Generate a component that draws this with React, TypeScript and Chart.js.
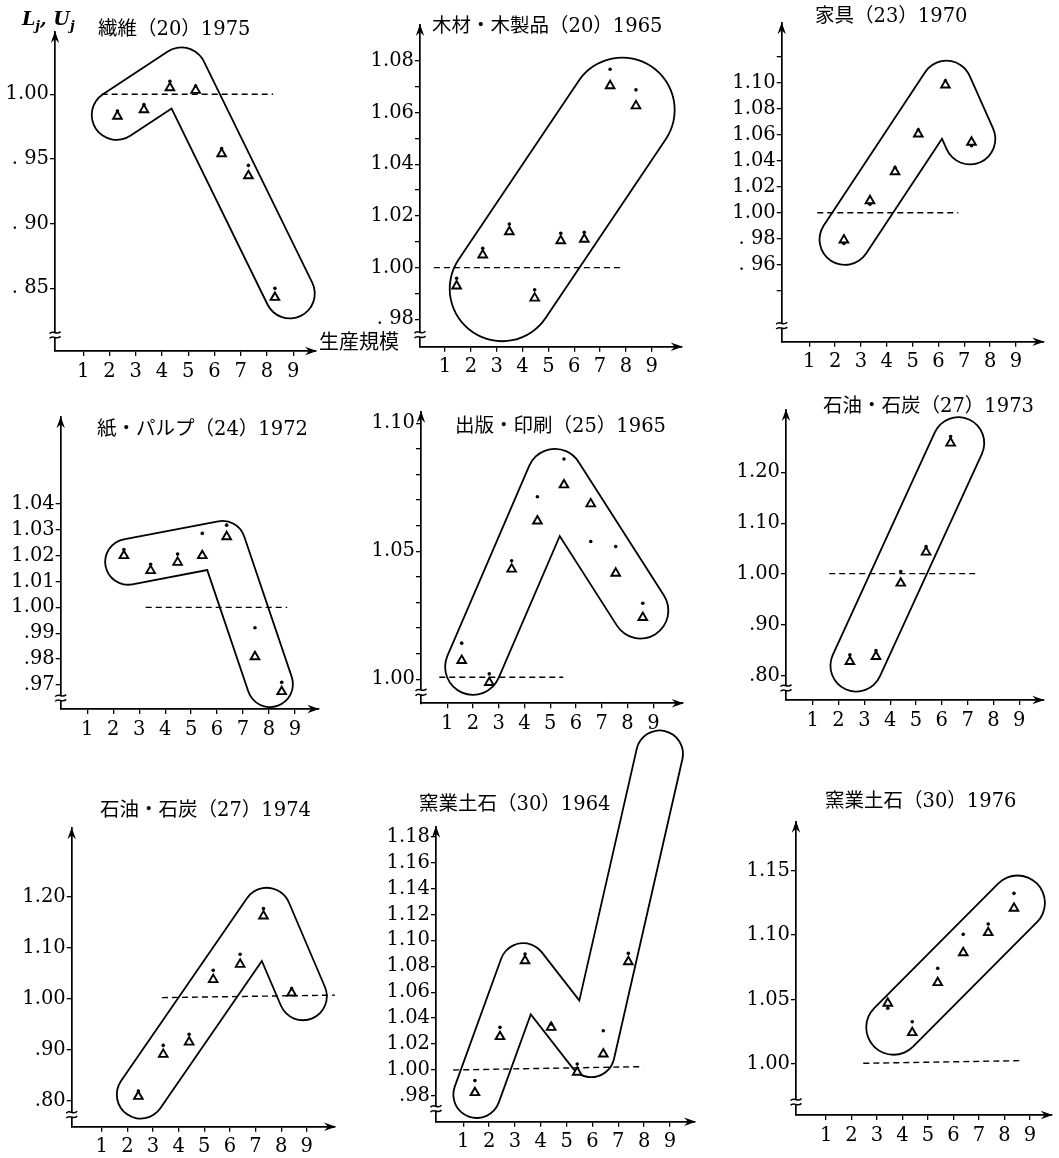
import React, { useEffect, useRef } from 'react';
import { Chart, registerables } from 'chart.js';

Chart.register(...registerables);

// ---------- shared ----------
const xTickValues = [1, 2, 3, 4, 5, 6, 7, 8, 9];
const xAxisLabel = '生産規模';

// ---------- panel 1 ----------
const p1Title = '繊維（20）1975';
const p1X = [2.30, 3.31, 4.30, 5.28, 6.27, 7.29, 8.30];
const p1Tri = [0.983, 0.988, 1.005, 1.003, 0.954, 0.937, 0.843];
const p1Dot = [0.987, 0.992, 1.010, 1.0064, 0.958, 0.945, 0.850];
const p1YTicks = [0.85, 0.90, 0.95, 1.00];
const p1YLabels = ['. 85', '. 90', '. 95', '1.00'];
const p1DashX = [1.70, 8.23];
const p1DashY = [1.0, 1.0];
const p1BandX = [2.27, 4.74, 8.87];
const p1BandY = [0.984, 1.017, 0.846];

// ---------- panel 2 ----------
const p2Title = '木材・木製品（20）1965';
const p2X = [1.45, 2.46, 3.49, 4.47, 5.48, 6.39, 7.39, 8.39];
const p2Tri = [0.9929, 1.0049, 1.0139, 0.9882, 1.0104, 1.011, 1.0704, 1.0626];
const p2Dot = [0.9959, 1.0075, 1.0169, 0.9914, 1.0133, 1.0137, 1.0768, 1.0688];
const p2YTicks = [0.98, 0.99, 1.00, 1.01, 1.02, 1.03, 1.04, 1.05, 1.06, 1.07, 1.08];
const p2YLabels = ['. 98', '', '1.00', '', '1.02', '', '1.04', '', '1.06', '', '1.08'];
const p2DashX = [0.57, 7.78];
const p2DashY = [1.0, 1.0];
const p2BandX = [3.21, 7.86];
const p2BandY = [0.9918, 1.061];

// ---------- panel 3 ----------
const p3Title = '家具（23）1970';
const p3X = [2.34, 3.35, 4.32, 5.22, 6.27, 7.28];
const p3Tri = [0.979, 1.0092, 1.0315, 1.0605, 1.0982, 1.0542];
const p3Dot = [0.9763, 1.0065, 1.0348, 1.0638, 1.1015, 1.0515];
const p3YTicks = [0.94, 0.96, 0.98, 1.00, 1.02, 1.04, 1.06, 1.08, 1.10, 1.12];
const p3YLabels = ['', '. 96', '. 98', '1.00', '1.02', '1.04', '1.06', '1.08', '1.10', ''];
const p3DashX = [1.31, 6.77];
const p3DashY = [1.0, 1.0];
const p3BandX = [2.38, 6.31, 7.22];
const p3BandY = [0.9794, 1.0974, 1.0567];

// ---------- panel 4 ----------
const p4Title = '紙・パルプ（24）1972';
const p4X = [2.41, 3.44, 4.48, 5.43, 6.37, 7.46, 8.49];
const p4Tri = [1.02, 1.0142, 1.0174, 1.02, 1.0273, 0.9809, 0.9674];
const p4Dot = [1.0224, 1.0167, 1.0206, 1.0286, 1.0318, 0.9921, 0.971];
const p4YTicks = [0.97, 0.98, 0.99, 1.00, 1.01, 1.02, 1.03, 1.04];
const p4YLabels = ['.97', '.98', '.99', '1.00', '1.01', '1.02', '1.03', '1.04'];
const p4DashX = [3.25, 8.7];
const p4DashY = [1.0, 1.0];
const p4BandX = [2.57, 6.21, 8.04];
const p4BandY = [1.0176, 1.0246, 0.9703];

// ---------- panel 5 ----------
const p5Title = '出版・印刷（25）1965';
const p5X = [1.56, 2.63, 3.5, 4.5, 5.53, 6.57, 7.54, 8.59];
const p5Tri = [1.0073, 0.9987, 1.043, 1.0618, 1.0759, 1.0685, 1.0414, 1.0241];
const p5Dot = [1.0141, 1.0021, 1.0463, 1.0713, 1.086, 1.0538, 1.0518, 1.0297];
const p5YTicks = [1.00, 1.01, 1.02, 1.03, 1.04, 1.05, 1.06, 1.07, 1.08, 1.09, 1.10];
const p5YLabels = ['1.00', '', '', '', '', '1.05', '', '', '', '', '1.10'];
const p5DashX = [0.69, 5.5];
const p5DashY = [1.0008, 1.0008];
const p5BandX = [2.0, 5.18, 8.5];
const p5BandY = [1.0048, 1.0791, 1.0268];

// ---------- panel 6 ----------
const p6Title = '石油・石炭（27）1973';
const p6X = [2.44, 3.45, 4.41, 5.39, 6.34];
const p6Tri = [0.8283, 0.8381, 0.9823, 1.0432, 1.2574];
const p6Dot = [0.8415, 0.85, 1.005, 1.054, 1.2703];
const p6YTicks = [0.80, 0.90, 1.00, 1.10, 1.20];
const p6YLabels = ['.80', '.90', '1.00', '1.10', '1.20'];
const p6DashX = [1.64, 7.32];
const p6DashY = [1.001, 1.001];
const p6BandX = [2.69, 6.64];
const p6BandY = [0.8202, 1.2574];

// ---------- panel 7 ----------
const p7Title = '石油・石炭（27）1974';
const p7X = [2.43, 3.40, 4.41, 5.35, 6.40, 7.31, 8.41];
const p7Tri = [0.8084, 0.8908, 0.9149, 1.0373, 1.0673, 1.162, 1.011];
const p7Dot = [0.8188, 0.9084, 0.93, 1.0555, 1.0869, 1.1765, 1.0196];
const p7YTicks = [0.80, 0.90, 1.00, 1.10, 1.20];
const p7YLabels = ['.80', '.90', '1.00', '1.10', '1.20'];
const p7DashX = [3.35, 10.1];
const p7DashY = [1.002, 1.007];
const p7BandX = [2.52, 7.44, 8.85];
const p7BandY = [0.8118, 1.1706, 1.0045];

// ---------- panel 8 ----------
const p8Title = '窯業土石（30）1964';
const p8X = [1.45, 2.42, 3.39, 4.4, 5.41, 6.42, 7.39, 8.23];
const p8Tri = [0.9825, 1.0257, 1.0843, 1.0329, 0.9982, 1.0123, 1.0835, 1.2417];
const p8Dot = [0.9918, 1.0329, 1.0895, 1.0355, 1.0046, 1.0303, 1.09, 1.2481];
const p8YTicks = [0.98, 1.00, 1.02, 1.04, 1.06, 1.08, 1.10, 1.12, 1.14, 1.16, 1.18];
const p8YLabels = ['.98', '1.00', '1.02', '1.04', '1.06', '1.08', '1.10', '1.12', '1.14', '1.16', '1.18'];
const p8DashX = [0.61, 7.97];
const p8DashY = [1.0, 1.0026];
const p8BandX = [1.52, 3.32, 5.95, 8.6];
const p8BandY = [0.981, 1.0798, 1.0125, 1.2439];

// ---------- panel 9 ----------
const p9Title = '窯業土石（30）1976';
const p9X = [3.42, 4.38, 5.38, 6.38, 7.36, 8.37];
const p9Tri = [1.0471, 1.0243, 1.0631, 1.0863, 1.1019, 1.1208];
const p9Dot = [1.0432, 1.0328, 1.0742, 1.1006, 1.1086, 1.1324];
const p9YTicks = [1.00, 1.05, 1.10, 1.15];
const p9YLabels = ['1.00', '1.05', '1.10', '1.15'];
const p9DashX = [2.46, 8.67];
const p9DashY = [1.0005, 1.0026];
const p9BandX = [3.65, 8.51];
const p9BandY = [1.0284, 1.125];

// ---------- layout / style configuration ----------
const NUM_FONT = "'DejaVu Serif', 'Liberation Serif', serif";
const TITLE_FONT = "'DejaVu Serif', 'Noto Sans CJK JP', serif";
const NUM_SIZE = 19.5;
const Y_W = 62;
const X_H = 34;

type PanelCfg = {
  title: string; titleL: number; titleY: number;
  x: number[]; tri: number[]; dot: number[];
  yTicks: number[]; yLabels: string[];
  dashX: number[]; dashY: number[];
  bandX: number[]; bandY: number[]; bandW: number;
  area: { l: number; t: number; r: number; b: number };
  xMin: number; xMax: number; yMin: number; yMax: number;
  padTop: number; breakOff: number; z: number;
};

const panels: PanelCfg[] = [
  { title: p1Title, titleL: 98, titleY: 29, x: p1X, tri: p1Tri, dot: p1Dot, yTicks: p1YTicks, yLabels: p1YLabels,
    dashX: p1DashX, dashY: p1DashY, bandX: p1BandX, bandY: p1BandY, bandW: 48,
    area: { l: 55, t: 32, r: 316, b: 351 }, xMin: -0.078, xMax: 9.865, yMin: 0.8016, yMax: 1.0481, padTop: 26, breakOff: 16, z: 3 },
  { title: p2Title, titleL: 432, titleY: 26, x: p2X, tri: p2Tri, dot: p2Dot, yTicks: p2YTicks, yLabels: p2YLabels,
    dashX: p2DashX, dashY: p2DashY, bandX: p2BandX, bandY: p2BandY, bandW: 103,
    area: { l: 420, t: 25, r: 681.7, b: 346.7 }, xMin: 0.032, xMax: 10.16, yMin: 0.9694, yMax: 1.0939, padTop: 24, breakOff: 12, z: 3 },
  { title: p3Title, titleL: 815, titleY: 16, x: p3X, tri: p3Tri, dot: p3Dot, yTicks: p3YTicks, yLabels: p3YLabels,
    dashX: p3DashX, dashY: p3DashY, bandX: p3BandX, bandY: p3BandY, bandW: 49,
    area: { l: 781.7, t: 23.3, r: 1043.3, b: 341.7 }, xMin: -0.068, xMax: 10.06, yMin: 0.9008, yMax: 1.1457, padTop: 22, breakOff: 16, z: 3 },
  { title: p4Title, titleL: 97, titleY: 429, x: p4X, tri: p4Tri, dot: p4Dot, yTicks: p4YTicks, yLabels: p4YLabels,
    dashX: p4DashX, dashY: p4DashY, bandX: p4BandX, bandY: p4BandY, bandW: 44,
    area: { l: 60.7, t: 417.3, r: 318.3, b: 709 }, xMin: -0.025, xMax: 9.9, yMin: 0.9607, yMax: 1.0735, padTop: 24, breakOff: 11, z: 2 },
  { title: p5Title, titleL: 455, titleY: 426, x: p5X, tri: p5Tri, dot: p5Dot, yTicks: p5YTicks, yLabels: p5YLabels,
    dashX: p5DashX, dashY: p5DashY, bandX: p5BandX, bandY: p5BandY, bandW: 54,
    area: { l: 421, t: 411.7, r: 682.7, b: 703.3 }, xMin: -0.02, xMax: 10.14, yMin: 0.9906, yMax: 1.1045, padTop: 24, breakOff: 11, z: 2 },
  { title: p6Title, titleL: 823, titleY: 406, x: p6X, tri: p6Tri, dot: p6Dot, yTicks: p6YTicks, yLabels: p6YLabels,
    dashX: p6DashX, dashY: p6DashY, bandX: p6BandX, bandY: p6BandY, bandW: 50,
    area: { l: 786, t: 410, r: 1043.3, b: 700 }, xMin: -0.034, xMax: 9.93, yMin: 0.7528, yMax: 1.3224, padTop: 24, breakOff: 12, z: 2 },
  { title: p7Title, titleL: 100, titleY: 810, x: p7X, tri: p7Tri, dot: p7Dot, yTicks: p7YTicks, yLabels: p7YLabels,
    dashX: p7DashX, dashY: p7DashY, bandX: p7BandX, bandY: p7BandY, bandW: 46,
    area: { l: 71.7, t: 828.3, r: 335, b: 1126.7 }, xMin: -0.17, xMax: 10.1, yMin: 0.749, yMax: 1.334, padTop: 24, breakOff: 12, z: 1 },
  { title: p8Title, titleL: 419, titleY: 804, x: p8X, tri: p8Tri, dot: p8Dot, yTicks: p8YTicks, yLabels: p8YLabels,
    dashX: p8DashX, dashY: p8DashY, bandX: p8BandX, bandY: p8BandY, bandW: 45,
    area: { l: 436, t: 826.7, r: 695, b: 1121.7 }, xMin: -0.057, xMax: 9.97, yMin: 0.9601, yMax: 1.1877, padTop: 110, breakOff: 13, z: 1 },
  { title: p9Title, titleL: 825, titleY: 801, x: p9X, tri: p9Tri, dot: p9Dot, yTicks: p9YTicks, yLabels: p9YLabels,
    dashX: p9DashX, dashY: p9DashY, bandX: p9BandX, bandY: p9BandY, bandW: 53,
    area: { l: 796, t: 821.7, r: 1051.7, b: 1115 }, xMin: -0.18, xMax: 9.85, yMin: 0.9604, yMax: 1.188, padTop: 24, breakOff: 13, z: 1 },
];

function arrowHead(ctx: CanvasRenderingContext2D, x: number, y: number, dx: number, dy: number) {
  const len = 12, half = 4.2, notch = 8;
  const px = -dy, py = dx;
  ctx.beginPath();
  ctx.moveTo(x, y);
  ctx.lineTo(x - dx * len + px * half, y - dy * len + py * half);
  ctx.lineTo(x - dx * notch, y - dy * notch);
  ctx.lineTo(x - dx * len - px * half, y - dy * len - py * half);
  ctx.closePath();
  ctx.fill();
}

function Panel({ cfg }: { cfg: PanelCfg }) {
  const ref = useRef<HTMLCanvasElement | null>(null);
  const boxLeft = Math.floor(cfg.area.l - Y_W - 4);
  const boxTop = Math.floor(cfg.area.t - cfg.padTop);
  const boxW = Math.ceil(cfg.area.r + 14 - boxLeft);
  const boxH = Math.ceil(cfg.area.b + X_H + 8 - boxTop);

  useEffect(() => {
    const canvas = ref.current;
    if (!canvas) return;
    const pts = (xs: number[], ys: number[]) => xs.map((x, i) => ({ x, y: ys[i] }));
    const deco = {
      id: 'deco',
      afterDraw(chart: any) {
        const { ctx, chartArea: a } = chart;
        ctx.save();
        ctx.fillStyle = '#000';
        arrowHead(ctx, a.left, a.top - 1, 0, -1);
        arrowHead(ctx, a.right + 1, a.bottom, 1, 0);
        const by = a.bottom - cfg.breakOff;
        ctx.fillStyle = '#fff';
        ctx.fillRect(a.left - 2, by - 2.5, 4, 5);
        ctx.strokeStyle = '#000';
        ctx.lineWidth = 1.5;
        for (const dy of [-2.4, 2.4]) {
          ctx.beginPath();
          ctx.moveTo(a.left - 5.5, by + dy + 1);
          ctx.bezierCurveTo(a.left - 2, by + dy - 3.5, a.left + 1, by + dy + 3.5, a.left + 5.5, by + dy - 1);
          ctx.stroke();
        }
        ctx.restore();
      },
    };
    const chart = new Chart(canvas, {
      type: 'scatter',
      data: {
        datasets: [
          { data: pts(cfg.bandX, cfg.bandY), showLine: true, borderColor: '#000', borderWidth: cfg.bandW + 3.6,
            borderJoinStyle: 'round', borderCapStyle: 'round', pointRadius: 0, tension: 0, clip: false, order: 4 } as any,
          { data: pts(cfg.bandX, cfg.bandY), showLine: true, borderColor: '#fff', borderWidth: cfg.bandW,
            borderJoinStyle: 'round', borderCapStyle: 'round', pointRadius: 0, tension: 0, clip: false, order: 3 } as any,
          { data: pts(cfg.dashX, cfg.dashY), showLine: true, borderColor: '#000', borderWidth: 1.4, borderDash: [6, 4],
            pointRadius: 0, tension: 0, clip: false, order: 2 } as any,
          { data: pts(cfg.x, cfg.tri), pointStyle: 'triangle', pointRadius: 5, borderWidth: 1.9,
            borderColor: '#000', backgroundColor: '#fff', clip: false, order: 1 } as any,
          { data: pts(cfg.x, cfg.dot), pointStyle: 'circle', pointRadius: 1.8, borderWidth: 0,
            backgroundColor: '#000', clip: false, order: 0 } as any,
        ],
      },
      options: {
        animation: false,
        responsive: false,
        devicePixelRatio: 1,
        events: [],
        layout: {
          padding: {
            left: cfg.area.l - boxLeft - Y_W,
            top: cfg.area.t - boxTop,
            right: boxLeft + boxW - cfg.area.r,
            bottom: boxTop + boxH - cfg.area.b - X_H,
          },
        },
        plugins: { legend: { display: false }, tooltip: { enabled: false }, title: { display: false } },
        scales: {
          x: {
            type: 'linear', position: 'bottom', min: cfg.xMin, max: cfg.xMax,
            afterBuildTicks: (s: any) => { s.ticks = xTickValues.map((v) => ({ value: v })); },
            afterFit: (s: any) => { s.height = X_H; },
            ticks: { autoSkip: false, maxRotation: 0, minRotation: 0, padding: 4, color: '#000',
              font: { family: NUM_FONT, size: NUM_SIZE }, callback: (v: any) => String(v) },
            grid: { drawOnChartArea: false, drawTicks: true, tickLength: 5, color: '#000', lineWidth: 1.3 },
            border: { display: true, color: '#000', width: 1.7 },
          },
          y: {
            type: 'linear', position: 'left', min: cfg.yMin, max: cfg.yMax,
            afterBuildTicks: (s: any) => { s.ticks = cfg.yTicks.map((v) => ({ value: v })); },
            afterFit: (s: any) => { s.width = Y_W; },
            ticks: { autoSkip: false, padding: 1, color: '#000', font: { family: NUM_FONT, size: NUM_SIZE },
              callback: (_v: any, i: number) => cfg.yLabels[i] ?? '' },
            grid: { drawOnChartArea: false, drawTicks: true, tickLength: 5, color: '#000', lineWidth: 1.3 },
            border: { display: true, color: '#000', width: 1.7 },
          },
        },
      },
      plugins: [deco],
    } as any);
    return () => chart.destroy();
  }, []);

  return (
    <canvas
      ref={ref}
      width={boxW}
      height={boxH}
      style={{ position: 'absolute', left: boxLeft, top: boxTop, width: boxW, height: boxH, zIndex: cfg.z }}
    />
  );
}

export default function App() {
  return (
    <div style={{ position: 'absolute', left: 0, top: 0, width: 1059, height: 1158, background: '#fff', overflow: 'hidden' }}>
      {panels.map((p, i) => (
        <Panel key={i} cfg={p} />
      ))}
      {panels.map((p, i) => (
        <div key={'t' + i} style={{ position: 'absolute', left: p.titleL, top: p.titleY - 12, fontFamily: TITLE_FONT,
          fontSize: 19.5, lineHeight: '24px', whiteSpace: 'nowrap', color: '#000', zIndex: 5 }}>{p.title}</div>
      ))}
      <div style={{ position: 'absolute', left: 22, top: 6, fontFamily: "'DejaVu Serif', serif", fontStyle: 'italic',
        fontWeight: 'bold', fontSize: 19, lineHeight: '24px', whiteSpace: 'nowrap', zIndex: 5 }}>
        L<sub style={{ fontSize: 13 }}>j</sub>, U<sub style={{ fontSize: 13 }}>j</sub>
      </div>
      <div style={{ position: 'absolute', left: 319, top: 329, fontFamily: "'Noto Sans CJK JP', sans-serif",
        fontSize: 20, lineHeight: '24px', whiteSpace: 'nowrap', zIndex: 5 }}>{xAxisLabel}</div>
    </div>
  );
}
